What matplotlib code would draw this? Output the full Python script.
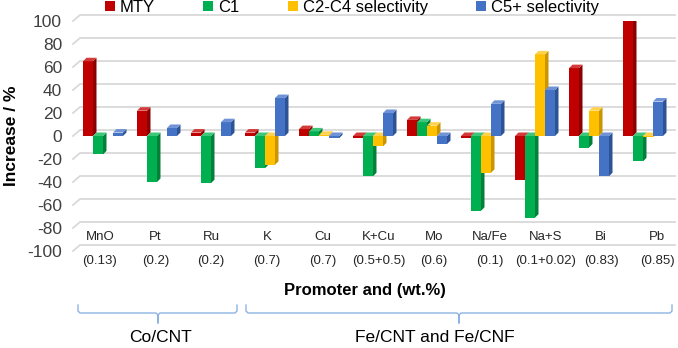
"""Promoter effect on MTY and product selectivities (Excel-style 3D column chart)."""

import matplotlib

matplotlib.use("Agg")
import matplotlib.pyplot as plt
from matplotlib.lines import Line2D
from matplotlib.patches import Polygon

plt.rcParams["font.family"] = ["Liberation Sans", "DejaVu Sans"]

categories = ["MnO", "Pt", "Ru", "K", "Cu", "K+Cu", "Mo", "Na/Fe", "Na+S", "Bi", "Pb"]
loadings = ["(0.13)", "(0.2)", "(0.2)", "(0.7)", "(0.7)", "(0.5+0.5)", "(0.6)",
            "(0.1)", "(0.1+0.02)", "(0.83)", "(0.85)"]
mty = [65, 22, 3, 3, 6, -2, 14, -2, -38, 59, 100]
c1 = [-16, -40, -41, -28, 4, -35, 12, -65, -71, -10, -22]
c2c4 = [0, 0, 0, -25, 1, -9, 9, -32, 71, 22, -1]
c5plus = [3, 7, 12, 33, -2, 20, -7, 28, 40, -35, 30]
series_names = ["MTY", "C1", "C2-C4 selectivity", "C5+ selectivity"]
groups = ["Co/CNT", "Fe/CNT and Fe/CNF"]

# (front, side, top) colours per series
palette = [("#C00000", "#8A0000", "#D43A3A"),
           ("#00B050", "#008038", "#3CC878"),
           ("#FFC000", "#C99500", "#FFD24D"),
           ("#4472C4", "#2E5394", "#6F93D6")]

W, H = 678, 348
fig = plt.figure(figsize=(W / 100, H / 100), dpi=100)


def fx(px):
    return px / W


def fy(py):
    return 1 - py / H


ax_l, ax_r, ax_t, ax_b = 76, 670, 21, 251
ax = fig.add_axes([fx(ax_l), fy(ax_b), fx(ax_r - ax_l), (ax_b - ax_t) / H])
ax.set_xlim(-0.5, len(categories) - 0.5)
ax.set_ylim(-100, 100)
ax.axis("off")

px_x = (ax_r - ax_l) / len(categories)   # pixels per category
px_y = (ax_b - ax_t) / 200.0             # pixels per percent

# back-wall gridlines (perspective offset) with slanted left part
gdx, gdy = 7 / px_x, 6 / px_y
x_front = -0.5 - 3 / px_x
x_end = len(categories) - 0.5 + 5 / px_x
for v in range(-100, 101, 20):
    ax.add_line(Line2D([x_front, x_front + gdx, x_end], [v, v + gdy, v + gdy],
                       color="#D9D9D9", lw=1.3, zorder=0.5, clip_on=False))
    ax.text(-0.5 - 14 / px_x, v - 1, str(v), ha="right", va="center",
            fontsize=12.5, color="#404040")

# bars with a simple 3D side/top face
w = 10 / px_x
ddx, ddy = 3.5 / px_x, 3.5 / px_y
handles = []
for j, (vals, name) in enumerate(zip([mty, c1, c2c4, c5plus], series_names)):
    front, side, top = palette[j]
    xs = [i + (j - 1.5) * w for i in range(len(categories))]
    bars = ax.bar(xs, vals, width=w, color=front, label=name, zorder=2 + j,
                  linewidth=0)
    handles.append(bars)
    for x, v in zip(xs, vals):
        if v == 0:
            continue
        x1 = x + w / 2
        x0 = x - w / 2
        hi = max(v, 0)
        lo = min(v, 0)
        ax.add_patch(Polygon([(x1, lo), (x1 + ddx, lo + ddy), (x1 + ddx, hi + ddy), (x1, hi)],
                             closed=True, color=side, lw=0, zorder=2 + j))
        ax.add_patch(Polygon([(x0, hi), (x0 + ddx, hi + ddy), (x1 + ddx, hi + ddy), (x1, hi)],
                             closed=True, color=top, lw=0, zorder=2 + j))

# category labels (two rows)
for i, (c, l) in enumerate(zip(categories, loadings)):
    xl = -0.06 + i * 1.032
    ax.text(xl, -88, c, ha="center", va="center", fontsize=9.5, color="#262626")
    ax.text(xl, -109, l, ha="center", va="center", fontsize=9.5, color="#262626")

ax.legend(handles=handles, loc="upper center", bbox_to_anchor=(fx(352 - ax_l) / fx(ax_r - ax_l), 1.12),
          ncol=4, frameon=False, fontsize=12, handlelength=0.6, handleheight=0.6,
          handletextpad=0.3, columnspacing=2.9, borderaxespad=0)

fig.text(fx(12), fy(136), "Increase / %", rotation=90, ha="center", va="center",
         fontsize=12.5, fontweight="bold")
fig.text(fx(365), fy(291), "Promoter and (wt.%)", ha="center", va="center",
         fontsize=12, fontweight="bold")

# group braces
brace_col = "#8DB3E2"
for (xa, xb, xt), label, lx in zip([(78, 237, 158), (246, 672, 459)], groups, [160, 435]):
    pts_x = [xa, xa, xa + 2, xt - 2, xt, xt, xt, xt + 2, xb - 2, xb, xb]
    pts_y = [305, 311, 313, 313, 315, 323, 315, 313, 313, 311, 305]
    fig.add_artist(Line2D([fx(p) for p in pts_x], [fy(p) for p in pts_y],
                          color=brace_col, lw=1.0))
    fig.text(fx(lx), fy(338), label, ha="center", va="center", fontsize=12.5)

fig.savefig("out.png", dpi=100)
